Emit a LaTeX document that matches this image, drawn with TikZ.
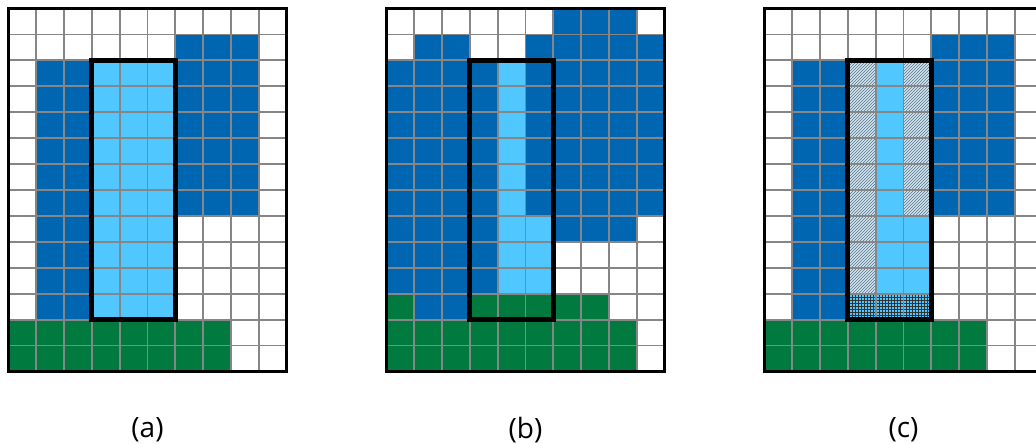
\documentclass[tikz,border=0pt]{standalone}
\usepackage{fontspec}
\setmainfont{Open Sans}
\usepackage{tikz}
\usetikzlibrary{patterns,positioning}

\definecolor{dkblue}{HTML}{0066B2}
\definecolor{ltblue}{HTML}{50C8FF}
\definecolor{grn}{HTML}{007A3E}
\definecolor{hatchbg}{HTML}{D2E6F0}
\definecolor{hatchln}{HTML}{5A7388}

\tikzset{
  cellline/.style={draw=gray!95, line width=1.8pt},
  outerbox/.style={draw=black, line width=3pt},
  window/.style={draw=black, line width=5pt},
  hatched/.style={fill=hatchbg, postaction={pattern=north east lines, pattern color=hatchln}},
  crossed/.style={fill=ltblue, postaction={pattern=grid, pattern color=black!80}},
  caption/.style={font=\fontsize{28}{32}\selectfont, inner sep=0pt}
}

% 10 x 14 cells, frame and the 3 x 10 window
\newcommand{\cellgrid}{%
    \foreach \i in {1,...,9} \draw[cellline] (\i,0) -- (\i,14);
    \foreach \j in {1,...,13} \draw[cellline] (0,\j) -- (10,\j);
    \draw[outerbox] (0,0) rectangle (10,14);
    \draw[window] (3,2) rectangle (6,12);
}

\begin{document}
\begin{tikzpicture}[x=1pt, y=-1pt]
    \useasboundingbox (0,0) rectangle (1036,444);
    \clip (0,0) rectangle (1036,444);

    % (a)
    \begin{scope}[shift={(8.5,8.5)}, x=27.8pt, y=-25.93pt]
        \fill[dkblue] (6,1) rectangle (9,8);
        \fill[dkblue] (1,2) rectangle (3,12);
        \fill[ltblue] (3,2) rectangle (6,12);
        \fill[grn] (0,12) rectangle (8,14);
        \cellgrid
        \coordinate (basea) at (5,14);
    \end{scope}

    % (b)
    \begin{scope}[shift={(386.5,8.5)}, x=27.8pt, y=-25.93pt]
        \fill[dkblue] (6,0) rectangle (9,1);
        \fill[dkblue] (1,1) rectangle (3,2);
        \fill[dkblue] (5,1) rectangle (10,8);
        \fill[dkblue] (0,2) rectangle (4,11);
        \fill[dkblue] (6,8) rectangle (9,9);
        \fill[dkblue] (1,11) rectangle (3,12);
        \fill[ltblue] (4,2) rectangle (5,11);
        \fill[ltblue] (5,8) rectangle (6,11);
        \fill[grn] (0,11) rectangle (1,12);
        \fill[grn] (3,11) rectangle (8,12);
        \fill[grn] (0,12) rectangle (9,14);
        \cellgrid
        \coordinate (baseb) at (5,14);
    \end{scope}

    % (c)
    \begin{scope}[shift={(764.5,8.5)}, x=27.8pt, y=-25.93pt]
        \fill[dkblue] (6,1) rectangle (9,8);
        \fill[dkblue] (1,2) rectangle (3,12);
        \fill[ltblue] (3,2) rectangle (6,12);
        \fill[grn] (0,12) rectangle (8,14);
        \path[hatched] (3,2) rectangle (4,11);
        \path[hatched] (5,2) rectangle (6,8);
        \path[crossed] (3,11) rectangle (6,12);
        \cellgrid
        \coordinate (basec) at (5,14);
    \end{scope}

    \node[caption, below=46pt of basea] (lbla) {(a)};
    \node[caption, below=46pt of baseb] (lblb) {(b)};
    \node[caption, below=46pt of basec] (lblc) {(c)};
\end{tikzpicture}
\end{document}
